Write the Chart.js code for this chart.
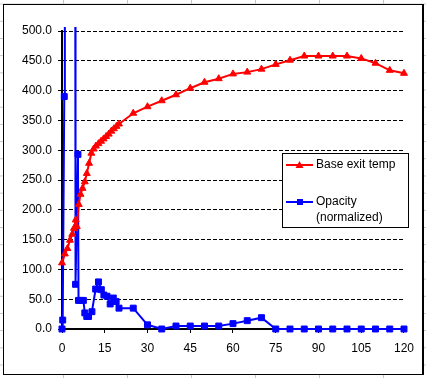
<!DOCTYPE html>
<html lang="en">
<head>
    <meta charset="UTF-8">
    <title>Base exit temp vs opacity</title>
    <script src="https://cdn.jsdelivr.net/npm/chart.js"></script>
    <style>
        html, body {
            margin: 0;
            width: 426px;
            height: 378px;
            overflow: hidden;
        }
        body {
            background-color: #fff;
            background-image:
                linear-gradient(to right, #c6c6c6 1px, transparent 1px),
                linear-gradient(to bottom, #c6c6c6 1px, transparent 1px);
            background-size: 64px 17.2px;
            background-position: 63px 3.6px;
        }
        #frame {
            position: absolute;
            left: 3px;
            top: 4px;
            width: 418px;
            height: 369px;
            background: #fff;
            border: 1px solid #000;
            border-right-width: 2px;
        }
        canvas {
            display: block;
        }
    </style>
</head>
<body>
<div id="frame">
    <canvas id="chart" width="418" height="369"></canvas>
</div>

<script>
    // Base exit temp (red triangles)
    const tempX = [0, 1.0, 1.9, 2.8, 3.6, 4.2, 4.8, 5.2, 5.9, 6.5, 7.2, 8, 8.7, 9.5, 10.3, 11.1, 11.9, 12.8, 13.7,
        14.6, 15.5, 16.4, 17.3, 18.2, 19.1, 20, 25, 30, 35, 40, 45, 50, 55, 60, 65, 70, 75, 80, 85, 90, 95, 100,
        105, 110, 115, 120];
    const tempY = [111, 126, 135, 149, 159, 169, 183, 172, 209, 226, 236, 247, 261, 278, 295, 302, 307, 311, 315,
        319, 323, 327, 332, 336, 340, 344, 362, 373, 383, 393, 404, 414, 420, 428, 431, 436, 444, 451, 458, 458, 458, 458,
        454, 446, 434, 429];

    // Opacity (normalized), blue squares; the two early spikes run off the top of the axis
    const opacityX = [0, 0.25, 0.8, 1.0, 4.6, 4.75, 5.6, 5.8, 6.6, 7.5, 8, 8.7, 9.3, 10.5, 11.8, 12.8, 13.8, 14.7,
        15.8, 16.9, 18, 19, 20, 25, 30, 35, 40, 45, 50, 55, 60, 65, 70, 75, 80, 85, 90, 95, 100, 105, 110, 115, 120];
    const opacityY = [0, 15, 390, 900, 900, 75, 293, 48, 48, 48, 27, 21, 21, 29, 67, 79, 66, 57,
        55, 42, 52, 46, 35, 35, 7, 0, 5, 5, 5, 5, 9, 14, 19, 0, 0, 0, 0, 0, 0, 0, 0, 0, 0];

    const xTicks = [0, 15, 30, 45, 60, 75, 90, 105, 120];
    const yTicks = [0, 50, 100, 150, 200, 250, 300, 350, 400, 450, 500];

    const toPoints = (xs, ys) => xs.map((x, i) => ({ x: x, y: ys[i] }));

    const FONT = { family: "'Liberation Sans', Arial, sans-serif", size: 12 };

    // legend drawn inside the plot, like the Excel one
    const boxLegend = {
        id: 'boxLegend',
        afterDraw(chart) {
            const ctx = chart.ctx;
            ctx.save();
            ctx.fillStyle = '#fff';
            ctx.fillRect(278, 148, 126, 74);
            ctx.strokeStyle = '#000';
            ctx.lineWidth = 1;
            ctx.strokeRect(278.5, 148.5, 126, 74);

            ctx.font = `${FONT.size}px ${FONT.family}`;
            ctx.textBaseline = 'middle';
            ctx.fillStyle = '#000';

            // red entry
            ctx.strokeStyle = '#ff0000';
            ctx.lineWidth = 2;
            ctx.beginPath();
            ctx.moveTo(282, 160);
            ctx.lineTo(309, 160);
            ctx.stroke();
            ctx.fillStyle = '#ff0000';
            ctx.beginPath();
            ctx.moveTo(295.5, 156);
            ctx.lineTo(299.5, 163);
            ctx.lineTo(291.5, 163);
            ctx.closePath();
            ctx.fill();

            // blue entry
            ctx.strokeStyle = '#0000ff';
            ctx.beginPath();
            ctx.moveTo(282, 197);
            ctx.lineTo(309, 197);
            ctx.stroke();
            ctx.fillStyle = '#0000ff';
            ctx.fillRect(293, 194, 6, 6);

            ctx.fillStyle = '#000';
            ctx.fillText('Base exit temp', 312, 160);
            ctx.fillText('Opacity', 312, 197);
            ctx.fillText('(normalized)', 312, 213);
            ctx.restore();
        }
    };

    new Chart(document.getElementById('chart'), {
        type: 'scatter',
        data: {
            datasets: [{
                label: 'Base exit temp',
                data: toPoints(tempX, tempY),
                showLine: true,
                borderColor: '#ff0000',
                backgroundColor: '#ff0000',
                borderWidth: 2,
                pointStyle: 'triangle',
                pointRadius: 4,
                pointBorderWidth: 1,
                clip: { left: 10, right: 10, top: 4, bottom: 10 }
            }, {
                label: 'Opacity (normalized)',
                data: toPoints(opacityX, opacityY),
                showLine: true,
                borderColor: '#0000ff',
                backgroundColor: '#0000ff',
                borderWidth: 2,
                pointStyle: 'rect',
                pointRadius: 4.2,
                pointBorderWidth: 1,
                clip: { left: 10, right: 10, top: 4, bottom: 10 }
            }]
        },
        options: {
            responsive: false,
            animation: false,
            layout: { padding: { left: 0, right: 15, top: 26, bottom: 0 } },
            plugins: {
                legend: { display: false },
                tooltip: { enabled: false }
            },
            scales: {
                x: {
                    type: 'linear',
                    min: 0,
                    max: 120,
                    afterBuildTicks: scale => { scale.ticks = xTicks.map(v => ({ value: v })); },
                    afterFit: scale => { scale.height = 45; },
                    ticks: { color: '#000', font: FONT, padding: 8, maxRotation: 0 },
                    grid: {
                        drawOnChartArea: false,
                        drawTicks: true,
                        tickLength: 4,
                        tickColor: '#000',
                        tickWidth: 1
                    },
                    border: { color: '#000', width: 2 }
                },
                y: {
                    min: 0,
                    max: 500,
                    afterBuildTicks: scale => { scale.ticks = yTicks.map(v => ({ value: v })); },
                    afterFit: scale => { scale.width = 58; },
                    ticks: {
                        color: '#000',
                        font: FONT,
                        padding: 6,
                        callback: v => v.toFixed(1)
                    },
                    grid: {
                        color: '#000',
                        lineWidth: 1,
                        drawTicks: true,
                        tickLength: 4,
                        tickColor: '#000',
                        tickWidth: 1,
                        tickBorderDash: []
                    },
                    // in v4 border.dash is what dashes the grid lines
                    border: { color: '#000', width: 2, dash: [4, 2] }
                }
            }
        },
        plugins: [boxLegend]
    });
</script>
</body>
</html>
